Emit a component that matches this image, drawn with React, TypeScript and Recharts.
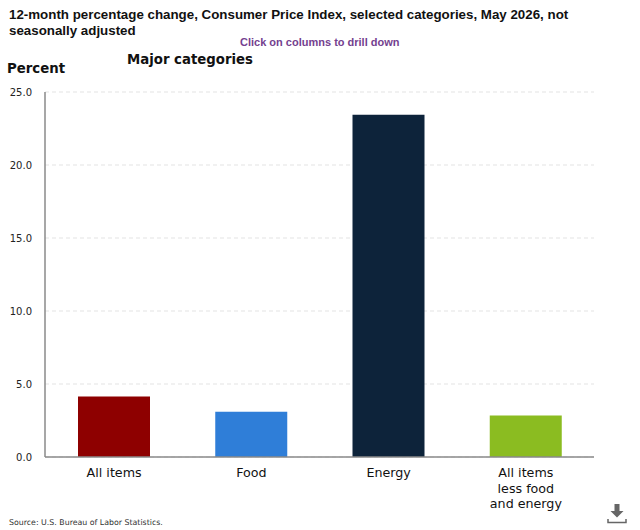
import React from 'react';
import { BarChart, Bar, Cell, XAxis, YAxis, CartesianGrid } from 'recharts';

const categories = ['All items', 'Food', 'Energy', 'All items less food and energy'];
const values = [4.15, 3.1, 23.45, 2.85];
const COLORS = ['#8E0000', '#2F7ED8', '#0D233A', '#8BBC21'];
const yTicks = [0, 5, 10, 15, 20, 25];
const categoryLines: Record<string, string[]> = {
    'All items less food and energy': ['All items', 'less food', 'and energy'],
};
const titleLines = [
    '12-month percentage change, Consumer Price Index, selected categories, May 2026, not',
    'seasonally adjusted',
];

const data = categories.map((name, i) => ({ name, value: values[i] }));

const font = 'Verdana, "DejaVu Sans", sans-serif';
const titleFont = '"Liberation Sans", Arial, sans-serif';

const CategoryTick = ({ x, y, payload }: any) => {
    const lines = categoryLines[payload.value] || [payload.value];
    return (
        <text x={x + 0.5} y={y} textAnchor="middle" fontFamily={font} fontSize={12.7} fill="#111">
            {lines.map((line: string, i: number) => (
                <tspan key={line} x={x + 0.5} dy={i === 0 ? 12 : 15.5}>{line}</tspan>
            ))}
        </text>
    );
};

export default function App() {
    return (
        <div style={{ position: 'absolute', left: 0, top: 0, width: 640, height: 530, background: '#fff', overflow: 'hidden' }}>
            {titleLines.map((line, i) => (
                <div key={line} style={{ position: 'absolute', left: 9, top: 7 + i * 15.5, whiteSpace: 'nowrap', fontFamily: titleFont, fontWeight: 700, fontSize: 13.33, lineHeight: '16px', color: '#111' }}>
                    {line}
                </div>
            ))}
            <div style={{ position: 'absolute', left: 240, top: 36, whiteSpace: 'nowrap', fontFamily: titleFont, fontWeight: 700, fontSize: 11, color: '#74418F' }}>
                Click on columns to drill down
            </div>
            <div style={{ position: 'absolute', left: 127, top: 52, fontFamily: font, fontWeight: 700, fontSize: 13.3, color: '#111' }}>
                Major categories
            </div>
            <div style={{ position: 'absolute', left: 7, top: 61, fontFamily: font, fontWeight: 700, fontSize: 13.3, color: '#111' }}>
                Percent
            </div>
            <BarChart
                width={640}
                height={530}
                data={data}
                margin={{ top: 92, right: 46, bottom: 0, left: 0 }}
                barSize={72}
                style={{ position: 'absolute', left: 0, top: 0 }}
            >
                <CartesianGrid vertical={false} stroke="#E3E3E3" strokeDasharray="4 3" />
                <XAxis
                    dataKey="name"
                    height={73}
                    interval={0}
                    tick={<CategoryTick />}
                    tickLine={false}
                    axisLine={{ stroke: '#8A8A8A', strokeWidth: 1.5 }}
                />
                <YAxis
                    width={45}
                    domain={[0, 25]}
                    ticks={yTicks}
                    tickFormatter={(v: number) => v.toFixed(1)}
                    tick={{ fontFamily: font, fontSize: 10, fill: '#222' }}
                    tickLine={false}
                    tickMargin={7}
                    axisLine={{ stroke: '#8A8A8A', strokeWidth: 1.5 }}
                />
                <Bar dataKey="value" isAnimationActive={false}>
                    {data.map((_, index) => (
                        <Cell key={`cell-${index}`} fill={COLORS[index]} />
                    ))}
                </Bar>
            </BarChart>
            <div style={{ position: 'absolute', left: 9, top: 518, fontFamily: font, fontSize: 7.85, color: '#333' }}>
                Source: U.S. Bureau of Labor Statistics.
            </div>
            <svg style={{ position: 'absolute', left: 606, top: 503 }} width={22} height={22} viewBox="0 0 22 22">
                <path d="M8.5 1h5v7h4l-6.5 6.500-6.500-6.500h4z" fill="#666" />
                <path d="M2 16v3.500h18v-3.500" fill="none" stroke="#666" strokeWidth={1.5} />
            </svg>
        </div>
    );
}
